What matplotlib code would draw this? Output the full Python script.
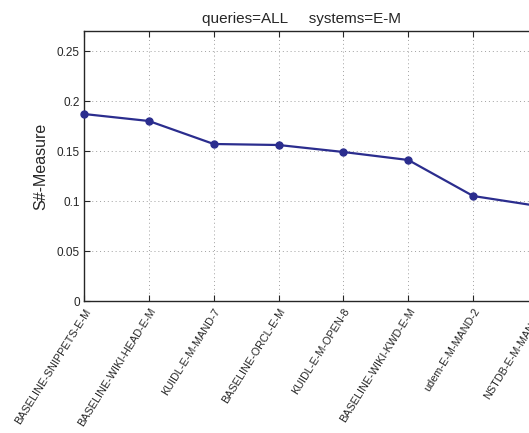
import numpy as np
import matplotlib
matplotlib.use('Agg')
import matplotlib.pyplot as plt

systems = ['BASELINE-SNIPPETS-E-M', 'BASELINE-WIKI-HEAD-E-M', 'KUIDL-E-M-MAND-7',
           'BASELINE-ORCL-E-M', 'KUIDL-E-M-OPEN-8', 'BASELINE-WIKI-KWD-E-M',
           'udem-E-M-MAND-2', 'NSTDB-E-M-MAND-3']
s_measure = [0.187, 0.180, 0.157, 0.156, 0.149, 0.141, 0.105, 0.095]
yticks = [0, 0.05, 0.1, 0.15, 0.2, 0.25]
yticklabels = ['0', '0.05', '0.1', '0.15', '0.2', '0.25']

plt.rcParams['font.family'] = ['Liberation Sans', 'DejaVu Sans']
txt = '#262626'

fig = plt.figure(figsize=(5.29, 4.33), dpi=100)
# axes run past the right edge of the figure, as in the original wide plot
ax = fig.add_axes([84/529., 132/433., (538-84)/529., 270/433.])

x = np.arange(len(systems))
ax.plot(x, s_measure, '-o', color='#2b2d8e', lw=1.6, ms=5, clip_on=False, zorder=3)

ax.set_xlim(0, len(systems) - 1)
ax.set_ylim(0, 0.27)
ax.set_yticks(yticks)
ax.set_yticklabels(yticklabels)
ax.set_xticks(x)
ax.set_xticklabels(systems, rotation=58, ha='right', va='top', rotation_mode='anchor')

ax.tick_params(direction='in', length=4, width=0.8, colors=txt, labelsize=8.5, pad=3,
               top=True, right=True)
ax.tick_params(axis='x', labelsize=7.8, pad=4)
ax.grid(True, ls=(0, (1, 3)), color='#a0a0a0', lw=0.7)
for sp in ax.spines.values():
    sp.set_linewidth(1.0)
    sp.set_color(txt)

ax.set_ylabel('S#-Measure', fontsize=11.5, color=txt, labelpad=6)
fig.text(302/529., 1 - 19/433., 'queries=ALL     systems=E-M', ha='center', va='center',
         fontsize=11, color=txt)

fig.savefig('out.png', dpi=100)
